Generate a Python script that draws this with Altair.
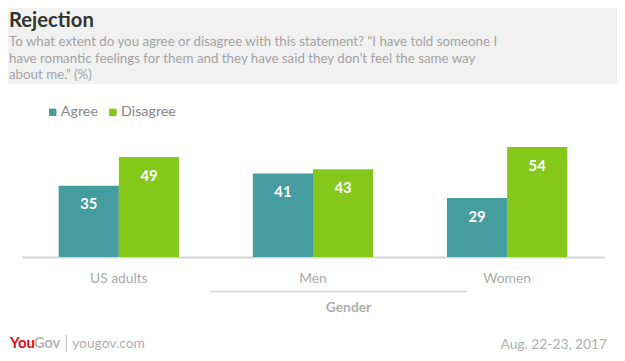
import altair as alt
import pandas as pd

groups = ["US adults", "Men", "Women"]
answers = ["Agree", "Disagree"]
agree = [35, 41, 29]
disagree = [49, 43, 54]
colors = ["#469d9f", "#84c81a"]

title_text = "Rejection"
subtitle_lines = [
    "To what extent do you agree or disagree with this statement? \u201cI have told someone I",
    "have romantic feelings for them and they have said they don\u2019t feel the same way",
    "about me.\u201d (%)",
]
group_label = "Gender"
source_text = "yougov.com"
date_text = "Aug. 22-23, 2017"

rows = []
for g, a, d in zip(groups, agree, disagree):
    rows.append({"group": g, "answer": answers[0], "value": a})
    rows.append({"group": g, "answer": answers[1], "value": d})
df = pd.DataFrame(rows)

FONT = "Lato"
W, H = 590, 124

base = alt.Chart(df).encode(
    x=alt.X("group:N", sort=groups, title=None,
            scale=alt.Scale(paddingInner=0.38, paddingOuter=0.19),
            axis=alt.Axis(labelAngle=0, labelFontSize=14, labelColor="#aaaaaa",
                          labelFont=FONT, labelPadding=15, ticks=False,
                          domainColor="#d4d4d4", domainWidth=2, grid=False)),
    xOffset=alt.XOffset("answer:N", sort=answers, scale=alt.Scale(paddingInner=0, paddingOuter=0)),
    y=alt.Y("value:Q", scale=alt.Scale(domain=[0, 60]), axis=None),
)

bars = base.mark_bar().encode(
    color=alt.Color("answer:N", sort=answers,
                    scale=alt.Scale(domain=answers, range=colors),
                    legend=alt.Legend(title=None, orient="none", legendX=24, legendY=-30,
                                      direction="horizontal", symbolType="square",
                                      symbolSize=56, symbolStrokeWidth=0,
                                      labelFontSize=14.5, labelColor="#888888",
                                      labelFont=FONT, labelOffset=1, columnPadding=7)),
)

labels = base.mark_text(baseline="middle", dy=19, color="white", fontSize=15,
                        fontWeight="bold", font=FONT).encode(text="value:Q")

def txt(s, x, y, **kw):
    return alt.Chart(pd.DataFrame({"t": [s]})).mark_text(font=FONT, **kw).encode(
        x=alt.value(x), y=alt.value(y), text="t:N")

header = alt.Chart(pd.DataFrame({"a": [0]})).mark_rect(color="#f1f1f1").encode(
    x=alt.value(-22), x2=alt.value(603), y=alt.value(-134), y2=alt.value(-51))

title = txt(title_text, -13, -109, align="left", baseline="alphabetic",
            fontSize=20.5, fontWeight="bold", color="#333333")
subs = [txt(s, -13, yy, align="left", baseline="alphabetic", fontSize=13.5, color="#a3a3a3")
        for s, yy in zip(subtitle_lines, [-90, -73, -56])]

gline = alt.Chart(pd.DataFrame({"a": [0]})).mark_rule(color="#d4d4d4", strokeWidth=1.5).encode(
    x=alt.value(191), x2=alt.value(451), y=alt.value(159))
gtext = txt(group_label, 331, 176, align="center", baseline="middle",
            fontSize=14, fontWeight="bold", color="#b0b0b0")

logo_you = txt("You", -12, 211, align="left", baseline="middle", fontSize=15,
               fontWeight="bold", color="#e30613")
logo_gov = txt("Gov", 12, 211, align="left", baseline="middle", fontSize=15,
               fontWeight="bold", color="#b5b5b5")
sep = alt.Chart(pd.DataFrame({"a": [0]})).mark_rule(color="#b5b5b5", strokeWidth=1).encode(
    x=alt.value(45), y=alt.value(203), y2=alt.value(220))
src = txt(source_text, 51, 212, align="left", baseline="middle", fontSize=14, color="#b0b0b0")
date = txt(date_text, 593, 213, align="right", baseline="middle", fontSize=14, color="#b0b0b0")

chart = alt.layer(header, title, *subs, bars, labels, gline, gtext,
                  logo_you, logo_gov, sep, src, date).properties(
    width=W, height=H,
    autosize=alt.AutoSizeParams(type="none"),
    padding={"left": 14, "top": 126, "right": 13, "bottom": 103},
).configure(background="white").configure_view(stroke=None, strokeWidth=0)

chart.save("out.html", embed_options={"renderer": "svg", "actions": False})
